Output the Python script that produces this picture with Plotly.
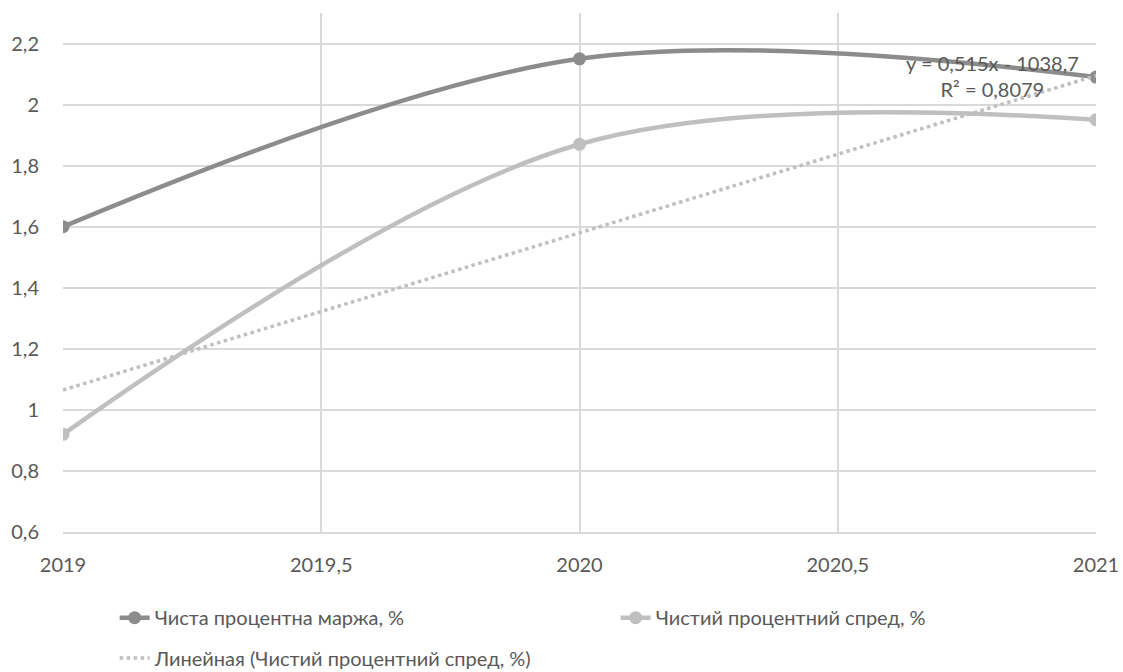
import numpy as np
import plotly.graph_objects as go

years = [2019, 2020, 2021]
margin_vals = [1.60, 2.15, 2.09]   # Чиста процентна маржа, %
spread_vals = [0.92, 1.87, 1.95]   # Чистий процентний спред, %

x_ticks = [2019, 2019.5, 2020, 2020.5, 2021]
x_ticktext = ["2019", "2019,5", "2020", "2020,5", "2021"]
y_ticks = [0.6, 0.8, 1.0, 1.2, 1.4, 1.6, 1.8, 2.0, 2.2]
y_ticktext = ["0,6", "0,8", "1", "1,2", "1,4", "1,6", "1,8", "2", "2,2"]

name_margin = "Чиста процентна маржа, %"
name_spread = "Чистий процентний спред, %"
name_trend = "Линейная (Чистий процентний спред, %)"

# linear trend of the spread
slope, intercept = np.polyfit(years, spread_vals, 1)
trend_x = [years[0], years[-1]]
trend_y = [slope * x + intercept for x in trend_x]
r2 = np.corrcoef(years, spread_vals)[0, 1] ** 2

dark = "#8c8c8c"
light = "#bfbfbf"
txt = "#595959"
grid = "#d9d9d9"
font = "Lato"
fs = 20

fig = go.Figure()

fig.add_trace(go.Scatter(
    x=years, y=margin_vals, name=name_margin, mode="lines+markers",
    line=dict(color=dark, width=4.5, shape="spline", smoothing=1),
    marker=dict(color=dark, size=13), legend="legend",
))
fig.add_trace(go.Scatter(
    x=years, y=spread_vals, name=name_spread, mode="lines+markers",
    line=dict(color=light, width=4.5, shape="spline", smoothing=1),
    marker=dict(color=light, size=13), legend="legend",
))
fig.add_trace(go.Scatter(
    x=trend_x, y=trend_y, name=name_trend, mode="lines",
    line=dict(color=light, width=3.5, dash="dot"), legend="legend2",
))

eq = "y = %sx - %s<br>R² = %s" % (
    f"{slope:.3f}".replace(".", ","),
    f"{-intercept:.1f}".replace(".", ","),
    f"{r2:.4f}".replace(".", ","),
)
fig.add_annotation(x=2020.8, y=2.095, xref="x", yref="y", text=eq,
                   showarrow=False, align="center",
                   font=dict(family=font, size=fs, color=txt))

legend_common = dict(orientation="h", xanchor="left", yanchor="middle",
                     font=dict(family=font, size=fs, color=txt),
                     bgcolor="rgba(0,0,0,0)")

fig.update_layout(
    width=1123, height=672,
    margin=dict(l=63, r=27, t=13, b=140, autoexpand=False),
    plot_bgcolor="white", paper_bgcolor="white",
    font=dict(family=font, size=fs, color=txt),
    showlegend=True,
    legend=dict(x=0.05, y=-0.165, entrywidth=456, entrywidthmode="pixels",
                **legend_common),
    legend2=dict(x=0.05, y=-0.243, **legend_common),
    xaxis=dict(range=[2019, 2021], tickvals=x_ticks, ticktext=x_ticktext,
               showgrid=True, gridcolor=grid, gridwidth=1.5, zeroline=False,
               showline=True, linecolor=grid, linewidth=1.5,
               ticks="", ticklabelstandoff=14,
               tickfont=dict(family=font, size=fs, color=txt)),
    yaxis=dict(range=[0.6, 2.3], tickvals=y_ticks, ticktext=y_ticktext,
               showgrid=True, gridcolor=grid, gridwidth=1.5, zeroline=False,
               showline=False, ticks="", ticklabelstandoff=23,
               tickfont=dict(family=font, size=fs, color=txt)),
)

fig.write_html("out.html", config={"displayModeBar": False},
               post_script="document.body.style.margin='0';")
